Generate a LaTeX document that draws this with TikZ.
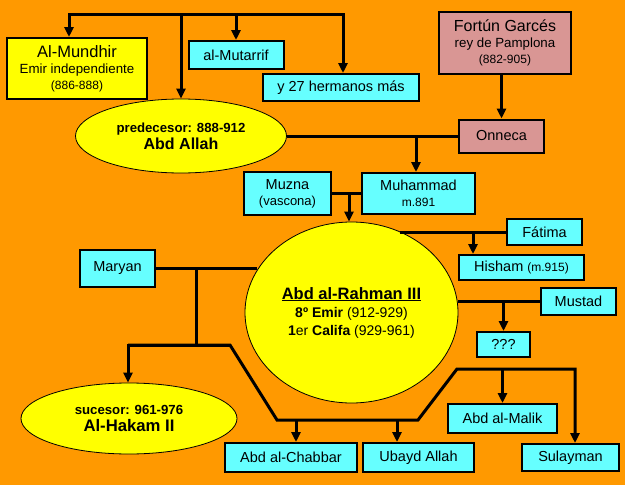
\documentclass[tikz,border=0pt]{standalone}
\usepackage{fontspec}
\setmainfont{Liberation Sans}
\usepackage{tikz}
\usetikzlibrary{shapes.geometric, arrows.meta}

\definecolor{bgorange}{RGB}{255,153,0}
\definecolor{boxcyan}{RGB}{102,255,255}
\definecolor{boxyellow}{RGB}{255,255,0}
\definecolor{boxpink}{RGB}{217,150,148}

\begin{document}
\begin{tikzpicture}[
        x=1pt, y=-1pt,
        person/.style={rectangle, draw, line width=2pt, fill=boxcyan, inner sep=0pt, align=center, font=\fontsize{14.5}{16}\selectfont},
        emir/.style={person, fill=boxyellow},
        navarra/.style={person, fill=boxpink},
        ruler/.style={ellipse, draw, line width=0.8pt, fill=boxyellow, inner sep=0pt, align=center, font=\bfseries\fontsize{13.2}{17}\selectfont},
        link/.style={draw, line width=3pt},
        child/.style={link, -{Triangle[length=10pt, width=9pt]}}
    ]
        % Background
        \fill[bgorange] (0,0) rectangle (625,485);

        % Nodes
        \node[emir, minimum width=140pt, minimum height=61pt] (mundhir) at (77,68.5)
            {\fontsize{16.5}{15}\selectfont Al-Mundhir\\ {\fontsize{13.3}{13}\selectfont Emir independiente}\\ {\fontsize{12}{12}\selectfont (886-888)}};
        \node[person, minimum width=95pt, minimum height=28pt] (mutarrif) at (236,55) {al-Mutarrif};
        \node[person, minimum width=156pt, minimum height=27pt] (hermanos) at (341,87.5) {y 27 hermanos más};
        \node[ruler, minimum width=211pt, minimum height=74pt] (abdallah) at (181,136)
            {predecesor: 888-912\\ {\fontsize{16}{19}\selectfont Abd Allah}};
        \node[navarra, minimum width=132pt, minimum height=62pt] (fortun) at (505,43)
            {\fontsize{16}{15}\selectfont Fortún Garcés\\ {\fontsize{13.3}{13}\selectfont rey de Pamplona}\\ {\fontsize{12}{12}\selectfont (882-905)}};
        \node[navarra, minimum width=85pt, minimum height=33pt] (onneca) at (501.5,136) {Onneca};
        \node[person, minimum width=87pt, minimum height=43pt] (muzna) at (287.5,193.5)
            {Muzna\\ {\fontsize{13}{15}\selectfont (vascona)}};
        \node[person, minimum width=113pt, minimum height=41pt] (muhammad) at (418.5,193.5)
            {Muhammad\\ {\fontsize{12}{14}\selectfont m.891}};
        \node[ruler, minimum width=213pt, minimum height=181pt, font=\bfseries\fontsize{14}{18}\selectfont] (rahman) at (351.5,312.5)
            {{\fontsize{16.5}{18}\selectfont\underline{Abd al-Rahman III}}\\
             8º Emir {\mdseries (912-929)}\\
             1{\mdseries er} Califa {\mdseries (929-961)}};
        \node[person, minimum width=75pt, minimum height=26pt] (fatima) at (544.5,232) {Fátima};
        \node[person, minimum width=125pt, minimum height=25pt] (hisham) at (521.5,267.5)
            {Hisham {\fontsize{12}{14}\selectfont (m.915)}};
        \node[person, minimum width=75pt, minimum height=27pt] (mustad) at (578.5,301) {Mustad};
        \node[person, minimum width=53pt, minimum height=25pt] (unknown) at (503.5,344.5) {???};
        \node[person, minimum width=75pt, minimum height=37pt] (maryan) at (117.5,268.5) {Maryan};
        \node[ruler, minimum width=216pt, minimum height=71pt] (hakam) at (129,418.5)
            {sucesor: 961-976\\ {\fontsize{16.7}{19}\selectfont Al-Hakam II}};
        \node[person, minimum width=132pt, minimum height=29pt] (chabbar) at (291,457.5) {Abd al-Chabbar};
        \node[person, minimum width=111pt, minimum height=29pt] (ubayd) at (418.5,457.5) {Ubayd Allah};
        \node[person, minimum width=109pt, minimum height=29pt] (malik) at (502.5,418.5) {Abd al-Malik};
        \node[person, minimum width=97pt, minimum height=27pt] (sulayman) at (570.5,457.5) {Sulayman};

        % Points on the lines
        \coordinate (sibA) at (69,14);
        \coordinate (sibD) at (343,14);
        \coordinate (wed1) at (416,136);
        \coordinate (wed2) at (349,193.5);
        \coordinate (wed3) at (196,268.5);
        \coordinate (wed4) at (473,232);
        \coordinate (fork) at (196,345);
        \coordinate (forkL) at (128,345);
        \coordinate (forkR) at (230,345);
        \coordinate (lowL) at (277,420);
        \coordinate (lowR) at (418,420);
        \coordinate (highL) at (457,369);
        \coordinate (highR) at (575,369);
        \coordinate (drop1) at (296,420);
        \coordinate (drop2) at (397,420);

        % Edges
        \draw[child] (sibD) -- (sibA) -- (sibA |- mundhir.north);
        \draw[child] (sibA) -- (sibD) -- (sibD |- hermanos.north);
        \draw[child] (abdallah |- sibA) -- (abdallah.north);
        \draw[child] (mutarrif |- sibA) -- (mutarrif.north);
        \draw[child] (onneca |- fortun.south) -- (onneca.north);
        \draw[link] (abdallah) -- (onneca);
        \draw[child] (wed1) -- (wed1 |- muhammad.north);
        \draw[link] (muzna.east) -- (muhammad.west);
        \draw[child] (wed2) -- (wed2 |- rahman.north);
        \draw[link] (fatima.west) -- (fatima.west -| rahman.59);
        \draw[child] (wed4) -- (wed4 |- hisham.north);
        \draw[link] (mustad.west) -- (mustad.west -| rahman.east);
        \draw[child] (unknown |- mustad.west) -- (unknown.north);
        \draw[link] (maryan.east) -- (maryan.east -| rahman.156);
        \draw[link] (wed3) -- (fork);
        \draw[child] (forkR) -- (forkL) -- (forkL |- hakam.north);
        \draw[child] (forkL) -- (forkR) -- (lowL) -- (lowR) -- (highL) -- (highR) -- (highR |- sulayman.north);
        \draw[child] (drop1) -- (drop1 |- chabbar.north);
        \draw[child] (drop2) -- (drop2 |- ubayd.north);
        \draw[child] (malik |- highL) -- (malik.north);
    \end{tikzpicture}
\end{document}
